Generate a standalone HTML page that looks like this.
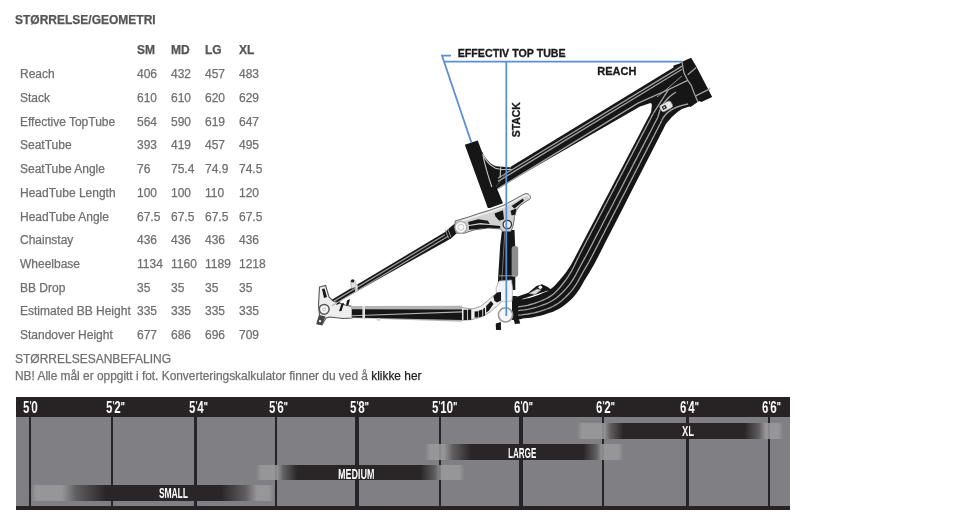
<!DOCTYPE html><html><head><meta charset="utf-8"><style>
html,body{margin:0;padding:0;background:#fff;width:960px;height:528px;overflow:hidden}
body{position:relative;font-family:"Liberation Sans",sans-serif;font-size:12.00px;color:#6f6f6f}
.t{position:absolute;white-space:nowrap;line-height:14px;will-change:transform;-webkit-text-stroke:0.25px currentColor}
.b{font-weight:bold}
</style></head><body>

<div class="t b" style="left:14.5px;top:12.74px;color:#555">STØRRELSE/GEOMETRI</div>
<div class="t b" style="left:137.0px;top:43.44px;color:#555">SM</div>
<div class="t b" style="left:171.0px;top:43.44px;color:#555">MD</div>
<div class="t b" style="left:205.0px;top:43.44px;color:#555">LG</div>
<div class="t b" style="left:239.0px;top:43.44px;color:#555">XL</div>
<div class="t" style="left:19.8px;top:67.14px">Reach</div>
<div class="t" style="left:136.5px;top:67.14px">406</div>
<div class="t" style="left:170.5px;top:67.14px">432</div>
<div class="t" style="left:204.5px;top:67.14px">457</div>
<div class="t" style="left:238.5px;top:67.14px">483</div>
<div class="t" style="left:19.8px;top:90.87px">Stack</div>
<div class="t" style="left:136.5px;top:90.87px">610</div>
<div class="t" style="left:170.5px;top:90.87px">610</div>
<div class="t" style="left:204.5px;top:90.87px">620</div>
<div class="t" style="left:238.5px;top:90.87px">629</div>
<div class="t" style="left:19.8px;top:114.60px">Effective TopTube</div>
<div class="t" style="left:136.5px;top:114.60px">564</div>
<div class="t" style="left:170.5px;top:114.60px">590</div>
<div class="t" style="left:204.5px;top:114.60px">619</div>
<div class="t" style="left:238.5px;top:114.60px">647</div>
<div class="t" style="left:19.8px;top:138.33px">SeatTube</div>
<div class="t" style="left:136.5px;top:138.33px">393</div>
<div class="t" style="left:170.5px;top:138.33px">419</div>
<div class="t" style="left:204.5px;top:138.33px">457</div>
<div class="t" style="left:238.5px;top:138.33px">495</div>
<div class="t" style="left:19.8px;top:162.06px">SeatTube Angle</div>
<div class="t" style="left:136.5px;top:162.06px">76</div>
<div class="t" style="left:170.5px;top:162.06px">75.4</div>
<div class="t" style="left:204.5px;top:162.06px">74.9</div>
<div class="t" style="left:238.5px;top:162.06px">74.5</div>
<div class="t" style="left:19.8px;top:185.79px">HeadTube Length</div>
<div class="t" style="left:136.5px;top:185.79px">100</div>
<div class="t" style="left:170.5px;top:185.79px">100</div>
<div class="t" style="left:204.5px;top:185.79px">110</div>
<div class="t" style="left:238.5px;top:185.79px">120</div>
<div class="t" style="left:19.8px;top:209.52px">HeadTube Angle</div>
<div class="t" style="left:136.5px;top:209.52px">67.5</div>
<div class="t" style="left:170.5px;top:209.52px">67.5</div>
<div class="t" style="left:204.5px;top:209.52px">67.5</div>
<div class="t" style="left:238.5px;top:209.52px">67.5</div>
<div class="t" style="left:19.8px;top:233.25px">Chainstay</div>
<div class="t" style="left:136.5px;top:233.25px">436</div>
<div class="t" style="left:170.5px;top:233.25px">436</div>
<div class="t" style="left:204.5px;top:233.25px">436</div>
<div class="t" style="left:238.5px;top:233.25px">436</div>
<div class="t" style="left:19.8px;top:256.98px">Wheelbase</div>
<div class="t" style="left:136.5px;top:256.98px">1134</div>
<div class="t" style="left:170.5px;top:256.98px">1160</div>
<div class="t" style="left:204.5px;top:256.98px">1189</div>
<div class="t" style="left:238.5px;top:256.98px">1218</div>
<div class="t" style="left:19.8px;top:280.71px">BB Drop</div>
<div class="t" style="left:136.5px;top:280.71px">35</div>
<div class="t" style="left:170.5px;top:280.71px">35</div>
<div class="t" style="left:204.5px;top:280.71px">35</div>
<div class="t" style="left:238.5px;top:280.71px">35</div>
<div class="t" style="left:19.8px;top:304.44px">Estimated BB Height</div>
<div class="t" style="left:136.5px;top:304.44px">335</div>
<div class="t" style="left:170.5px;top:304.44px">335</div>
<div class="t" style="left:204.5px;top:304.44px">335</div>
<div class="t" style="left:238.5px;top:304.44px">335</div>
<div class="t" style="left:19.8px;top:328.17px">Standover Height</div>
<div class="t" style="left:136.5px;top:328.17px">677</div>
<div class="t" style="left:170.5px;top:328.17px">686</div>
<div class="t" style="left:204.5px;top:328.17px">696</div>
<div class="t" style="left:238.5px;top:328.17px">709</div>
<div class="t" style="left:15.3px;top:351.74px">STØRRELSESANBEFALING</div>
<div class="t" style="left:15.3px;top:368.54px;font-size:11.9px">NB! Alle mål er oppgitt i fot. Konverteringskalkulator finner du ved å <span style="color:#222">klikke her</span></div>
<svg style="position:absolute;left:0;top:0;will-change:transform" width="960" height="528" viewBox="0 0 960 528">
<defs><filter id="bl" x="-5%" y="-5%" width="110%" height="110%"><feGaussianBlur stdDeviation="0.35"/></filter></defs>
<g filter="url(#bl)">
<g fill="#151515"><path d="M492.5,191.5 L511.5,166.3 L673.5,67.5 L673.5,65.6 L679.8,63.4 L682.0,61.7 L691.1,57.7 L696.2,66.2 L712.2,96.9 L701.4,102.0 L699.1,100.9 L690.6,107.1 L689.4,106.5 Q677.0,109.0 665.9,124.0 L665.1,125.6 L663.4,128.9 L660.9,133.8 L657.6,140.2 L653.5,148.2 L648.6,157.8 L643.0,168.8 L636.6,181.2 L630.2,193.8 L623.9,206.2 L617.5,218.8 L611.1,231.2 L605.7,241.8 L601.4,250.2 L598.1,256.8 L595.8,261.2 L593.5,265.4 L591.4,269.1 L589.4,272.5 L587.5,275.5 L585.7,278.4 L584.1,281.1 L582.6,283.8 L581.2,286.2 L579.7,288.8 L578.0,291.2 L576.2,293.8 L574.2,296.2 L571.9,298.8 L569.2,301.2 L566.2,303.8 L563.0,306.2 L559.6,308.4 L556.1,310.3 L552.5,311.9 L548.9,313.1 L545.4,314.2 L542.2,315.2 L539.1,316.0 L536.3,316.6 L533.4,317.2 L530.6,317.7 L527.8,318.0 L524.9,318.3 L522.5,318.5 L520.3,318.7 L518.6,318.8 L517.1,318.9 L516.1,319.0 L515.4,319.0 L515.0,319.0 L514.8,297.3 L517.0,296.7 L528.4,292.7 L536.4,285.9 L542.0,284.2 L547.7,287.0 L551.0,289.5 L519.9,299.8 L523.1,299.2 L526.3,298.6 L529.4,297.9 L532.5,297.0 L535.5,296.0 L538.4,294.9 L541.3,293.8 L544.1,292.6 L546.9,291.4 L549.5,289.8 L552.0,288.0 L554.4,285.9 L556.6,283.6 L558.9,281.0 L561.2,278.3 L563.5,275.5 L565.9,272.5 L568.2,269.1 L570.6,265.4 L572.9,261.2 L575.3,256.8 L578.7,250.2 L583.1,241.8 L588.6,231.2 L595.2,218.8 L601.7,206.2 L608.3,193.8 L614.8,181.2 L621.4,168.8 L627.5,157.0 L633.3,146.0 L638.7,135.8 L643.6,126.2 L647.4,119.1 L649.9,114.4 L651.1,112.0 C651.8,107.0 652.6,103.6 650.5,103.1 L640.0,106.6 Z"/>
<polygon points="464.8,144.8 477.7,140.5 481.9,151.4 503.0,203.2 489.8,207.9 487.8,207.9"/>
<path d="M481.9,151.4 C485,158 490,164 496,166.3 L511.5,167.4 L511.5,166.3 L492.5,191.5 L487,186 Z"/>
<polygon points="328.0,301.9 445.5,231.8 450.0,227.6 456.0,222.5 457.0,233.0 451.0,238.5 331.0,305.7"/>
<polygon points="512.0,296.0 516.0,296.0 522.0,299.0 522.0,319.0 512.0,320.0"/>
<path d="M502,230 L514.5,230 L515.3,250 L515.3,290 L497.5,290 L498.6,270 L500.2,245 Z"/></g>
<path d="M455,221 L468.9,216.9 L478.4,213.6 L489.8,210.25 L503,205.5 L516.3,198.4 L523.9,194.2 C527,192.8 530,194 530.6,197.5 C530.6,199 529,200 527.7,200.3 L520,205.5 L516.3,210.7 L514.4,216.4 L513.9,222.1 L512.5,227.8 L510.6,231.5 L503,231.5 L500.2,228.9 L487.9,228 L473.7,230 L463.3,233.5 L456,233 Z" fill="#d2d2d2" stroke="#6a6a6a" stroke-width="1.0"/>
<path d="M457,222.6 L469.2,218.6 L478.7,215.3 L490.2,211.9 L503.5,207.2 L516.8,200 L524.2,195.9 C526.8,194.7 528.8,195.5 529,197.6" stroke="#f4f4f4" stroke-width="1.3" fill="none"/>
<path d="M319.5,287 L325.6,285.5 L329,297 L333,301 L345,305 L352,306.5 L352,318 L343,318.5 L330,317 L326,318 L322,324.8 L316.8,323.8 L319.5,315 L318.5,305 Z" fill="#eeeeee" stroke="#555" stroke-width="1.1"/>
<path d="M460,307.3 L472,309 L480.5,306.4 L489,299.6 L492.5,296.2 L495,294.5 L501,291.5 L501,302.1 L497.6,305.6 L490.8,311.5 L482.3,316.6 L472,319.6 L460,320.5 Z" fill="#eeeeee" stroke="#999" stroke-width="0.9"/>
<path d="M499,281 L511.5,280 L512.8,290 L512,301 L503,302 L497,298 L496,288 Z" fill="#f0f3f8" stroke="#aaa" stroke-width="0.7"/>
<rect x="511.6" y="246" width="6.6" height="31" rx="3" fill="#8c8c8c"/>
<line x1="499" y1="275.8" x2="515" y2="275.8" stroke="#aaa" stroke-width="0.9"/>
<line x1="504.8" y1="232" x2="501.8" y2="281" stroke="#999" stroke-width="0.7"/>
<path d="M529,293.5 L537,289 L541,290 L535,294.5 Z" fill="#ddd" stroke="#999" stroke-width="0.6"/>
<g fill="#151515"><polygon points="468.0,222.1 478.4,219.2 487.9,220.7 489.8,224.0 480.3,223.0 468.9,224.9"/>
<polygon points="468.9,225.9 479.4,224.5 489.8,224.9 500.2,225.9 500.2,228.2 489.8,227.8 468.9,229.7"/>
<polygon points="494.5,213.6 503.0,210.2 504.0,219.2 499.2,220.7 495.5,216.4"/>
<polygon points="511.6,206.0 522.9,198.4 523.9,200.8 514.4,208.4"/>
<polygon points="510.6,210.7 516.3,208.4 515.3,214.5 511.6,215.5"/>
<polygon points="322.0,289.0 324.5,288.5 327.0,297.0 324.0,298.0"/>
<polygon points="340.0,298.0 343.0,296.0 339.0,304.0 336.0,305.0"/>
<polygon points="319.5,315.0 325.5,316.5 322.0,324.8 316.8,323.8" fill="#444"/>
<polygon points="341.5,303.5 344.0,303.0 341.5,311.0 339.0,311.2"/>
<polygon points="347.0,300.5 350.0,299.0 348.5,305.0 346.0,305.5"/>
<polygon points="463.5,309.8 467.0,309.8 467.0,320.0 463.5,320.0"/>
<polygon points="467.8,309.5 471.2,309.5 471.2,319.8 467.8,319.8"/>
<polygon points="474.6,311.5 478.0,311.3 478.0,317.5 474.6,317.5"/>
<polygon points="478.6,310.7 482.3,309.5 482.3,316.5 478.6,317.2"/>
<polygon points="483.2,308.8 485.0,307.8 485.0,315.6 483.2,316.2"/>
<polygon points="486.2,306.0 491.0,301.0 493.5,304.0 489.0,310.5 486.2,312.8"/>
<polygon points="493.3,296.5 497.0,292.5 501.0,292.0 501.0,300.5 497.0,302.5 494.5,301.0"/></g>
<g stroke="#9d9d9d" stroke-width="0.95" fill="none"><polyline points="682.0,75.9 665.0,90.6 657.0,97.0"/>
<line x1="445.2" y1="229.8" x2="448.6" y2="238.4"/>
<line x1="447.6" y1="229.0" x2="451.0" y2="237.2"/></g>
<g stroke="#a2a2a2" stroke-width="1.3" fill="none"><line x1="498.0" y1="178.3" x2="682.0" y2="66.1"/>
<line x1="498.0" y1="181.4" x2="682.0" y2="69.2"/>
<polyline points="498.0,188.6 638.0,103.2 668.4,89.7 687.7,80.4"/>
<path d="M653.2,113.7 L668.4,89.7"/>
<polyline points="653.2,113.7 651.7,116.4 650.3,119.2 648.9,121.9 647.4,124.7 646.0,127.4 644.6,130.2 643.1,132.9 641.7,135.6 640.3,138.4 638.8,141.1 637.4,143.9 636.0,146.6 634.5,149.4 633.1,152.1 631.7,154.9 630.2,157.6 628.8,160.4 627.4,163.1 625.9,165.8 624.5,168.6 623.1,171.3 621.6,174.1 620.2,176.8 618.8,179.6 617.3,182.3 615.9,185.1 614.5,187.8 613.0,190.6 611.6,193.3 610.2,196.0 608.7,198.8 607.3,201.5 605.9,204.3 604.4,207.0 603.0,209.8 601.6,212.5 600.1,215.3 598.7,218.0 597.3,220.8 595.8,223.5 594.4,226.2 593.0,229.0 591.5,231.7 590.1,234.5 588.7,237.2 587.2,240.0 585.8,242.7 584.4,245.5 582.9,248.2 581.5,251.0 580.1,253.8 578.7,256.7 577.2,259.5 575.8,262.4 574.5,265.3 573.0,268.2 571.5,271.1 569.8,273.9 568.1,276.7 566.3,279.4 564.3,282.0 562.3,284.5 560.3,287.0 558.1,289.5 555.9,291.8 553.5,294.0 550.9,295.9 548.2,297.6 545.4,299.0 542.5,300.3 539.5,301.5 536.6,302.6 533.6,303.7 530.5,304.5 527.5,305.3 524.4,305.9 521.2,306.4 518.1,306.8"/>
<path d="M657.8,117.4 Q661,101 676,92"/>
<polyline points="657.8,117.4 656.3,120.2 654.8,123.0 653.4,125.8 651.9,128.7 650.5,131.5 649.0,134.3 647.6,137.1 646.1,139.9 644.6,142.7 643.2,145.5 641.7,148.4 640.3,151.2 638.8,154.0 637.4,156.8 635.9,159.6 634.4,162.4 633.0,165.3 631.5,168.1 630.1,170.9 628.6,173.7 627.1,176.5 625.7,179.3 624.2,182.1 622.8,185.0 621.3,187.8 619.9,190.6 618.4,193.4 616.9,196.2 615.5,199.0 614.0,201.8 612.6,204.7 611.1,207.5 609.7,210.3 608.2,213.1 606.7,215.9 605.3,218.7 603.8,221.5 602.4,224.4 600.9,227.2 599.5,230.0 598.0,232.8 596.5,235.6 595.1,238.4 593.6,241.2 592.2,244.1 590.7,246.9 589.2,249.7 587.8,252.5 586.3,255.3 584.7,258.1 583.2,260.9 581.6,263.7 580.1,266.5 578.6,269.4 577.1,272.3 575.6,275.1 574.0,277.9 572.2,280.6 570.4,283.3 568.4,285.9 566.3,288.4 564.1,290.7 561.9,293.1 559.5,295.3 557.1,297.4 554.5,299.3 551.8,301.0 549.0,302.5 546.0,303.8 543.0,304.9 540.0,306.0 537.0,307.0 533.9,307.9 530.8,308.7 527.7,309.3 524.5,309.8 521.4,310.2 518.2,310.6"/>
<path d="M661.7,120.6 Q667,108 688,104"/>
<polyline points="661.7,120.6 660.3,123.5 658.8,126.4 657.3,129.3 655.8,132.1 654.4,135.0 652.9,137.9 651.4,140.8 649.9,143.6 648.4,146.5 647.0,149.4 645.5,152.3 644.0,155.1 642.5,158.0 641.0,160.9 639.6,163.8 638.1,166.6 636.6,169.5 635.1,172.4 633.6,175.3 632.2,178.1 630.7,181.0 629.2,183.9 627.7,186.8 626.3,189.6 624.8,192.5 623.3,195.4 621.8,198.3 620.3,201.1 618.9,204.0 617.4,206.9 615.9,209.8 614.4,212.6 612.9,215.5 611.5,218.4 610.0,221.3 608.5,224.1 607.0,227.0 605.5,229.9 604.1,232.8 602.6,235.6 601.1,238.5 599.6,241.4 598.2,244.3 596.7,247.1 595.2,250.0 593.7,252.9 592.2,255.8 590.7,258.6 589.2,261.5 587.6,264.3 585.9,267.1 584.3,269.9 582.7,272.8 581.1,275.6 579.5,278.5 578.0,281.4 576.3,284.2 574.4,286.9 572.5,289.6 570.4,292.1 568.2,294.5 565.9,296.8 563.5,299.1 561.0,301.2 558.4,303.2 555.6,304.9 552.8,306.5 549.8,307.8 546.8,309.0 543.7,310.1 540.6,311.1 537.5,312.0 534.3,312.8 531.1,313.4 527.9,314.0 524.7,314.4 521.5,314.8 518.2,315.1"/>
<polyline points="682.0,61.7 683.8,72.5 687.7,80.4 691.1,85.0 694.5,94.0 698.0,102.0"/>
<line x1="687.7" y1="74.7" x2="696.2" y2="67.4"/>
<line x1="695.7" y1="95.8" x2="710.3" y2="88.6"/></g>
<path d="M482.8,154 C485,159.5 490,165.5 495.5,168.2 C499,169.4 505,169.6 511.5,169.4 M482.8,154 C484,162 487.5,174 491.8,187 M500.7,167.3 L500.1,177.5" stroke="#c4c4c4" stroke-width="1.15" fill="none"/>
<polygon points="351,305.9 462,305.8 462,321.7 351,317.9" fill="#b4b4b4"/>
<g fill="#151515"><polygon points="352,309.3 462,309.4 462,311.3 352,315.2"/><polygon points="352,316.2 462,312.6 462,320 352,317.4"/></g>
<rect x="362.4" y="305.9" width="2.6" height="12.3" fill="#e0e0e0"/>
<rect x="376.6" y="318" width="4" height="2.8" rx="1" fill="#cfcfcf"/>
<polygon points="331.0,305.7 448.0,235.8 448.5,236.7 333.0,305.7" fill="#a8a8a8"/>
<line x1="334.0" y1="301.1" x2="445.0" y2="234.8" stroke="#9a9a9a" stroke-width="1.3"/>
<g transform="rotate(-28 666 106.5)"><rect x="660" y="102.8" width="12.5" height="7.4" rx="2.6" fill="#e8e8e8" stroke="#9a9a9a" stroke-width="0.7"/><rect x="662" y="104.6" width="4.2" height="3.6" fill="#222"/><rect x="663.2" y="105.6" width="1.6" height="1.6" fill="#ddd"/></g>
<circle cx="540.3" cy="287.2" r="1.8" fill="#fff"/>
<g fill="#151515"><polygon points="495.8,323.4 500.9,322 501,330 496,330"/><polygon points="513.4,318.9 519,318.9 520.2,323.4 515,324"/></g>
<circle cx="505.5" cy="314.9" r="7.1" fill="#f4f6fa" stroke="#9a9a9a" stroke-width="1.6"/>
<circle cx="320" cy="321.2" r="1.1" fill="#fff"/>
<path d="M350.5,281 L354.5,280 L357,286.5 L351.5,288.5 Z" fill="#e2e2e2" stroke="#999" stroke-width="0.6"/>
<circle cx="352.6" cy="280.9" r="1.7" fill="#222"/>
<polygon points="355.2,285.7 357.6,284.3 357.6,290.8 355.2,292.2" fill="#d8d8d8"/>
<circle cx="324.2" cy="309.3" r="4.9" fill="#fafafa" stroke="#555" stroke-width="1.5"/><circle cx="324.2" cy="309.4" r="1.6" fill="none" stroke="#aaa" stroke-width="0.8"/>
<circle cx="460.9" cy="227.3" r="6" fill="#f6f6f6" stroke="#aaa" stroke-width="1.3"/><circle cx="460.9" cy="227.3" r="3" fill="none" stroke="#bbb" stroke-width="0.8"/>
<circle cx="507.3" cy="224.5" r="4.2" fill="#e8eef8" stroke="#333" stroke-width="1.3"/>
</g>
<g stroke="#5b8fd5" stroke-width="1.75" fill="none">
<polyline points="451,55.6 442,55.6 471.3,142.4"/>
<line x1="444.5" y1="61.7" x2="682" y2="61.7"/>
<line x1="506.3" y1="61.7" x2="506.3" y2="316"/>
</g>
<g font-family="Liberation Sans" font-weight="bold" font-size="11" fill="#1a1a1a" stroke="#1a1a1a" stroke-width="0.3">
<text x="457.7" y="57" textLength="108" lengthAdjust="spacingAndGlyphs">EFFECTIV TOP TUBE</text>
<text x="597.3" y="75.3">REACH</text>
<text transform="translate(520.1,137.2) rotate(-90)" font-size="10.4">STACK</text>
</g>
</svg>
<div style="position:absolute;left:15.6px;top:397px;width:774.6px;height:112.6px;background:#807f84;overflow:hidden">
<div style="position:absolute;left:0;top:0;width:100%;height:20.2px;background:#272324"></div>
<div style="position:absolute;left:0;top:108.8px;width:100%;height:3.8px;background:#272324"></div>
<div style="position:absolute;left:13.30px;top:20.0px;width:2.20px;height:89.0px;background:#26232a"></div>
<div style="position:absolute;left:7.40px;top:1.6px;font:bold 16.5px/16px 'Liberation Sans',sans-serif;color:#fff;transform:scaleX(0.69);transform-origin:0 0;white-space:nowrap;will-change:transform">5<span style="font-size:12px;line-height:0;vertical-align:3px">&#39;</span>0</div>
<div style="position:absolute;left:95.20px;top:20.0px;width:2.40px;height:89.0px;background:#26232a"></div>
<div style="position:absolute;left:90.40px;top:1.6px;font:bold 16.5px/16px 'Liberation Sans',sans-serif;color:#fff;transform:scaleX(0.69);transform-origin:0 0;white-space:nowrap;will-change:transform">5<span style="font-size:12px;line-height:0;vertical-align:3px">&#39;</span>2<span style="font-size:13px;line-height:0;vertical-align:2px">&quot;</span></div>
<div style="position:absolute;left:178.20px;top:20.0px;width:3.60px;height:89.0px;background:#26232a"></div>
<div style="position:absolute;left:173.00px;top:1.6px;font:bold 16.5px/16px 'Liberation Sans',sans-serif;color:#fff;transform:scaleX(0.69);transform-origin:0 0;white-space:nowrap;will-change:transform">5<span style="font-size:12px;line-height:0;vertical-align:3px">&#39;</span>4<span style="font-size:13px;line-height:0;vertical-align:2px">&quot;</span></div>
<div style="position:absolute;left:259.50px;top:20.0px;width:2.40px;height:89.0px;background:#26232a"></div>
<div style="position:absolute;left:253.20px;top:1.6px;font:bold 16.5px/16px 'Liberation Sans',sans-serif;color:#fff;transform:scaleX(0.69);transform-origin:0 0;white-space:nowrap;will-change:transform">5<span style="font-size:12px;line-height:0;vertical-align:3px">&#39;</span>6<span style="font-size:13px;line-height:0;vertical-align:2px">&quot;</span></div>
<div style="position:absolute;left:339.50px;top:20.0px;width:3.80px;height:89.0px;background:#26232a"></div>
<div style="position:absolute;left:334.40px;top:1.6px;font:bold 16.5px/16px 'Liberation Sans',sans-serif;color:#fff;transform:scaleX(0.69);transform-origin:0 0;white-space:nowrap;will-change:transform">5<span style="font-size:12px;line-height:0;vertical-align:3px">&#39;</span>8<span style="font-size:13px;line-height:0;vertical-align:2px">&quot;</span></div>
<div style="position:absolute;left:423.20px;top:20.0px;width:2.40px;height:89.0px;background:#26232a"></div>
<div style="position:absolute;left:416.40px;top:1.6px;font:bold 16.5px/16px 'Liberation Sans',sans-serif;color:#fff;transform:scaleX(0.69);transform-origin:0 0;white-space:nowrap;will-change:transform">5<span style="font-size:12px;line-height:0;vertical-align:3px">&#39;</span>10<span style="font-size:13px;line-height:0;vertical-align:2px">&quot;</span></div>
<div style="position:absolute;left:503.50px;top:20.0px;width:3.80px;height:89.0px;background:#26232a"></div>
<div style="position:absolute;left:498.40px;top:1.6px;font:bold 16.5px/16px 'Liberation Sans',sans-serif;color:#fff;transform:scaleX(0.69);transform-origin:0 0;white-space:nowrap;will-change:transform">6<span style="font-size:12px;line-height:0;vertical-align:3px">&#39;</span>0<span style="font-size:13px;line-height:0;vertical-align:2px">&quot;</span></div>
<div style="position:absolute;left:586.20px;top:20.0px;width:2.40px;height:89.0px;background:#26232a"></div>
<div style="position:absolute;left:580.40px;top:1.6px;font:bold 16.5px/16px 'Liberation Sans',sans-serif;color:#fff;transform:scaleX(0.69);transform-origin:0 0;white-space:nowrap;will-change:transform">6<span style="font-size:12px;line-height:0;vertical-align:3px">&#39;</span>2<span style="font-size:13px;line-height:0;vertical-align:2px">&quot;</span></div>
<div style="position:absolute;left:670.00px;top:20.0px;width:3.80px;height:89.0px;background:#26232a"></div>
<div style="position:absolute;left:664.90px;top:1.6px;font:bold 16.5px/16px 'Liberation Sans',sans-serif;color:#fff;transform:scaleX(0.69);transform-origin:0 0;white-space:nowrap;will-change:transform">6<span style="font-size:12px;line-height:0;vertical-align:3px">&#39;</span>4<span style="font-size:13px;line-height:0;vertical-align:2px">&quot;</span></div>
<div style="position:absolute;left:752.20px;top:20.0px;width:2.40px;height:89.0px;background:#26232a"></div>
<div style="position:absolute;left:746.40px;top:1.6px;font:bold 16.5px/16px 'Liberation Sans',sans-serif;color:#fff;transform:scaleX(0.69);transform-origin:0 0;white-space:nowrap;will-change:transform">6<span style="font-size:12px;line-height:0;vertical-align:3px">&#39;</span>6<span style="font-size:13px;line-height:0;vertical-align:2px">&quot;</span></div>
<div style="position:absolute;left:15.4px;top:87.5px;width:243.0px;height:16.0px;background:linear-gradient(to right, rgba(154,154,157,0) 0px, rgba(154,154,157,.85) 5px, rgba(154,154,157,.85) 238.0px, rgba(154,154,157,0) 243.0px)"></div>
<div style="position:absolute;left:240.0px;top:67.9px;width:208.4px;height:15.6px;background:linear-gradient(to right, rgba(154,154,157,0) 0px, rgba(154,154,157,.85) 5px, rgba(154,154,157,.85) 203.4px, rgba(154,154,157,0) 208.4px)"></div>
<div style="position:absolute;left:409.9px;top:47.2px;width:198.5px;height:15.6px;background:linear-gradient(to right, rgba(154,154,157,0) 0px, rgba(154,154,157,.85) 5px, rgba(154,154,157,.85) 193.5px, rgba(154,154,157,0) 198.5px)"></div>
<div style="position:absolute;left:561.9px;top:25.6px;width:206.5px;height:16.0px;background:linear-gradient(to right, rgba(154,154,157,0) 0px, rgba(154,154,157,.85) 5px, rgba(154,154,157,.85) 201.5px, rgba(154,154,157,0) 206.5px)"></div>
<div style="position:absolute;left:46.4px;top:87.5px;width:195.0px;height:16.0px;background:linear-gradient(to right, rgba(42,38,39,0) 0px, rgba(42,38,39,.5) 14.1px, rgba(42,38,39,1) 44.0px, rgba(42,38,39,1) 159.0px, rgba(42,38,39,.5) 183.5px, rgba(42,38,39,0) 195.0px)"></div>
<div style="position:absolute;left:143.7px;top:88.3px;font:bold 15px/16px 'Liberation Sans',sans-serif;color:#fff;transform:scaleX(0.56);transform-origin:0 0;white-space:nowrap;will-change:transform">SMALL</div>
<div style="position:absolute;left:261.9px;top:67.9px;width:164.5px;height:15.6px;background:linear-gradient(to right, rgba(42,38,39,0) 0px, rgba(42,38,39,.5) 6.6px, rgba(42,38,39,1) 20.5px, rgba(42,38,39,1) 143.5px, rgba(42,38,39,.5) 157.8px, rgba(42,38,39,0) 164.5px)"></div>
<div style="position:absolute;left:322.8px;top:68.7px;font:bold 15px/16px 'Liberation Sans',sans-serif;color:#fff;transform:scaleX(0.60);transform-origin:0 0;white-space:nowrap;will-change:transform">MEDIUM</div>
<div style="position:absolute;left:428.1px;top:47.2px;width:158.2px;height:15.6px;background:linear-gradient(to right, rgba(42,38,39,0) 0px, rgba(42,38,39,.5) 8.7px, rgba(42,38,39,1) 27.2px, rgba(42,38,39,1) 139.2px, rgba(42,38,39,.5) 152.2px, rgba(42,38,39,0) 158.2px)"></div>
<div style="position:absolute;left:492.1px;top:48.0px;font:bold 15px/16px 'Liberation Sans',sans-serif;color:#fff;transform:scaleX(0.54);transform-origin:0 0;white-space:nowrap;will-change:transform">LARGE</div>
<div style="position:absolute;left:588.8px;top:25.6px;width:161.6px;height:16.0px;background:linear-gradient(to right, rgba(42,38,39,0) 0px, rgba(42,38,39,.5) 6.3px, rgba(42,38,39,1) 19.6px, rgba(42,38,39,1) 140.6px, rgba(42,38,39,.5) 154.9px, rgba(42,38,39,0) 161.6px)"></div>
<div style="position:absolute;left:666.3px;top:26.4px;font:bold 15px/16px 'Liberation Sans',sans-serif;color:#fff;transform:scaleX(0.62);transform-origin:0 0;white-space:nowrap;will-change:transform">XL</div>
</div>
</body></html>
